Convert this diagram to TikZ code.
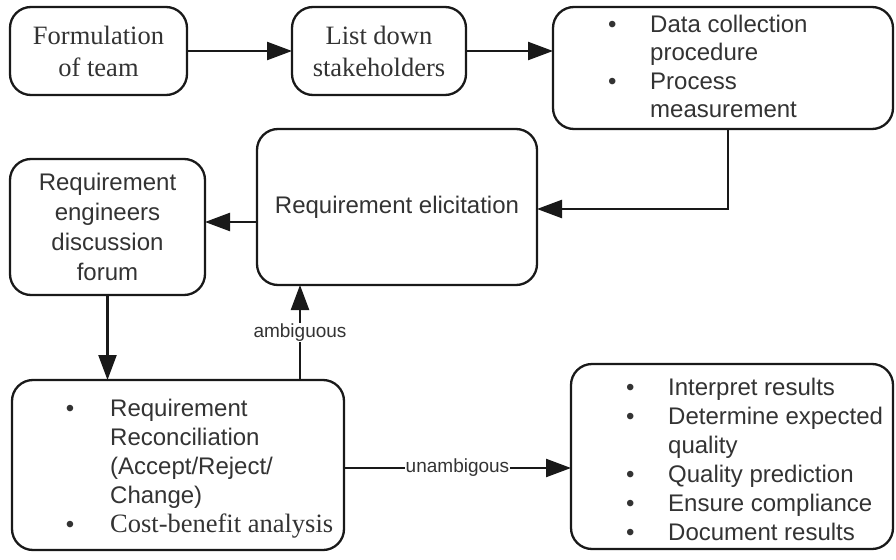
\documentclass[tikz,border=0pt]{standalone}
\usepackage{fontspec}
\setmainfont{Liberation Sans}
\newfontfamily\arialf{Liberation Sans}
\newfontfamily\timesf{Liberation Serif}
\usetikzlibrary{arrows.meta}
\begin{document}
\begin{tikzpicture}[x=1pt,y=-1pt,
 box/.style={draw=black!90, line width=2.3pt, rounded corners=21pt, inner sep=0pt, outer sep=0pt},
 arr/.style={-{Triangle[length=25pt,width=18pt]}, line width=2.3pt, draw=black!90},
 stxt/.style={font=\arialf\fontsize{24}{29}\selectfont, text=black!80, inner sep=0pt, align=center},
 rtxt/.style={font=\timesf\fontsize{26.5}{32}\selectfont, text=black!80, inner sep=0pt, align=center},
 ltxt/.style={font=\arialf\fontsize{24}{29}\selectfont, text=black!80, inner sep=0pt, anchor=west},
 lbl/.style={font=\arialf\fontsize{19}{22}\selectfont, text=black!80, fill=white, inner sep=1pt}]
\useasboundingbox[fill=white] (0,0) rectangle (896,559);
\newcommand\bul{\makebox[16pt]{\textbullet}}
% boxes
\node[box, rtxt, minimum width=177pt, minimum height=88pt] (A) at (98.5,51) {Formulation\\of team};
\node[box, rtxt, minimum width=174pt, minimum height=88pt] (B) at (379,51) {List down\\stakeholders};
\node[box, minimum width=340pt, minimum height=122pt] (C) at (723,68) {};
\node[ltxt, font=\arialf\fontsize{24}{28.5}\selectfont] (Ct) at (604,69.5) {\begin{tabular}{@{}l@{\hspace{30pt}}l@{}}
\bul & Data collection\\
 & procedure\\
\bul & Process\\
 & measurement
\end{tabular}};
\node[box, stxt, minimum width=280pt, minimum height=156pt] (E) at (397,207) {Requirement elicitation};
\node[box, stxt, font=\arialf\fontsize{24}{30}\selectfont, minimum width=195pt, minimum height=136pt] (F) at (107.5,227) {Requirement\\engineers\\discussion\\forum};
\node[box, minimum width=332pt, minimum height=170pt] (G) at (178,465) {};
\node[ltxt] (Gt) at (62,469) {\begin{tabular}{@{}l@{\hspace{32pt}}l@{}}
\bul & Requirement\\
 & Reconciliation\\
 & (Accept/Reject/\\
 & Change)\\
\bul & {\timesf\fontsize{26.5}{29}\selectfont Cost-benefit analysis}
\end{tabular}};
\node[box, minimum width=322pt, minimum height=185pt] (H) at (732,456.5) {};
\node[ltxt] (Ht) at (622,462) {\begin{tabular}{@{}l@{\hspace{30pt}}l@{}}
\bul & Interpret results\\
\bul & Determine expected\\
 & quality\\
\bul & Quality prediction\\
\bul & Ensure compliance\\
\bul & Document results
\end{tabular}};
% connectors
\draw[arr] (A) -- (B);
\draw[arr] (B.east) -- (B.east -| C.west);
\draw[arr] ([xshift=5pt]C.south) |- ([yshift=-2pt]E.east);
\draw[arr] ([yshift=-15pt]E.west) -- ([yshift=-15pt]E.west -| F.east);
\draw[arr] (F.south) -- (F.south |- G.north);
\draw[arr] ([xshift=122pt]G.north) -- node[lbl] (La) {ambiguous} ([xshift=122pt]G.north |- E.south);
\draw[arr] ([yshift=-3pt]G.east) -- node[lbl] (Lu) {unambigous} ([yshift=-3pt]G.east -| H.west);
\end{tikzpicture}
\end{document}
